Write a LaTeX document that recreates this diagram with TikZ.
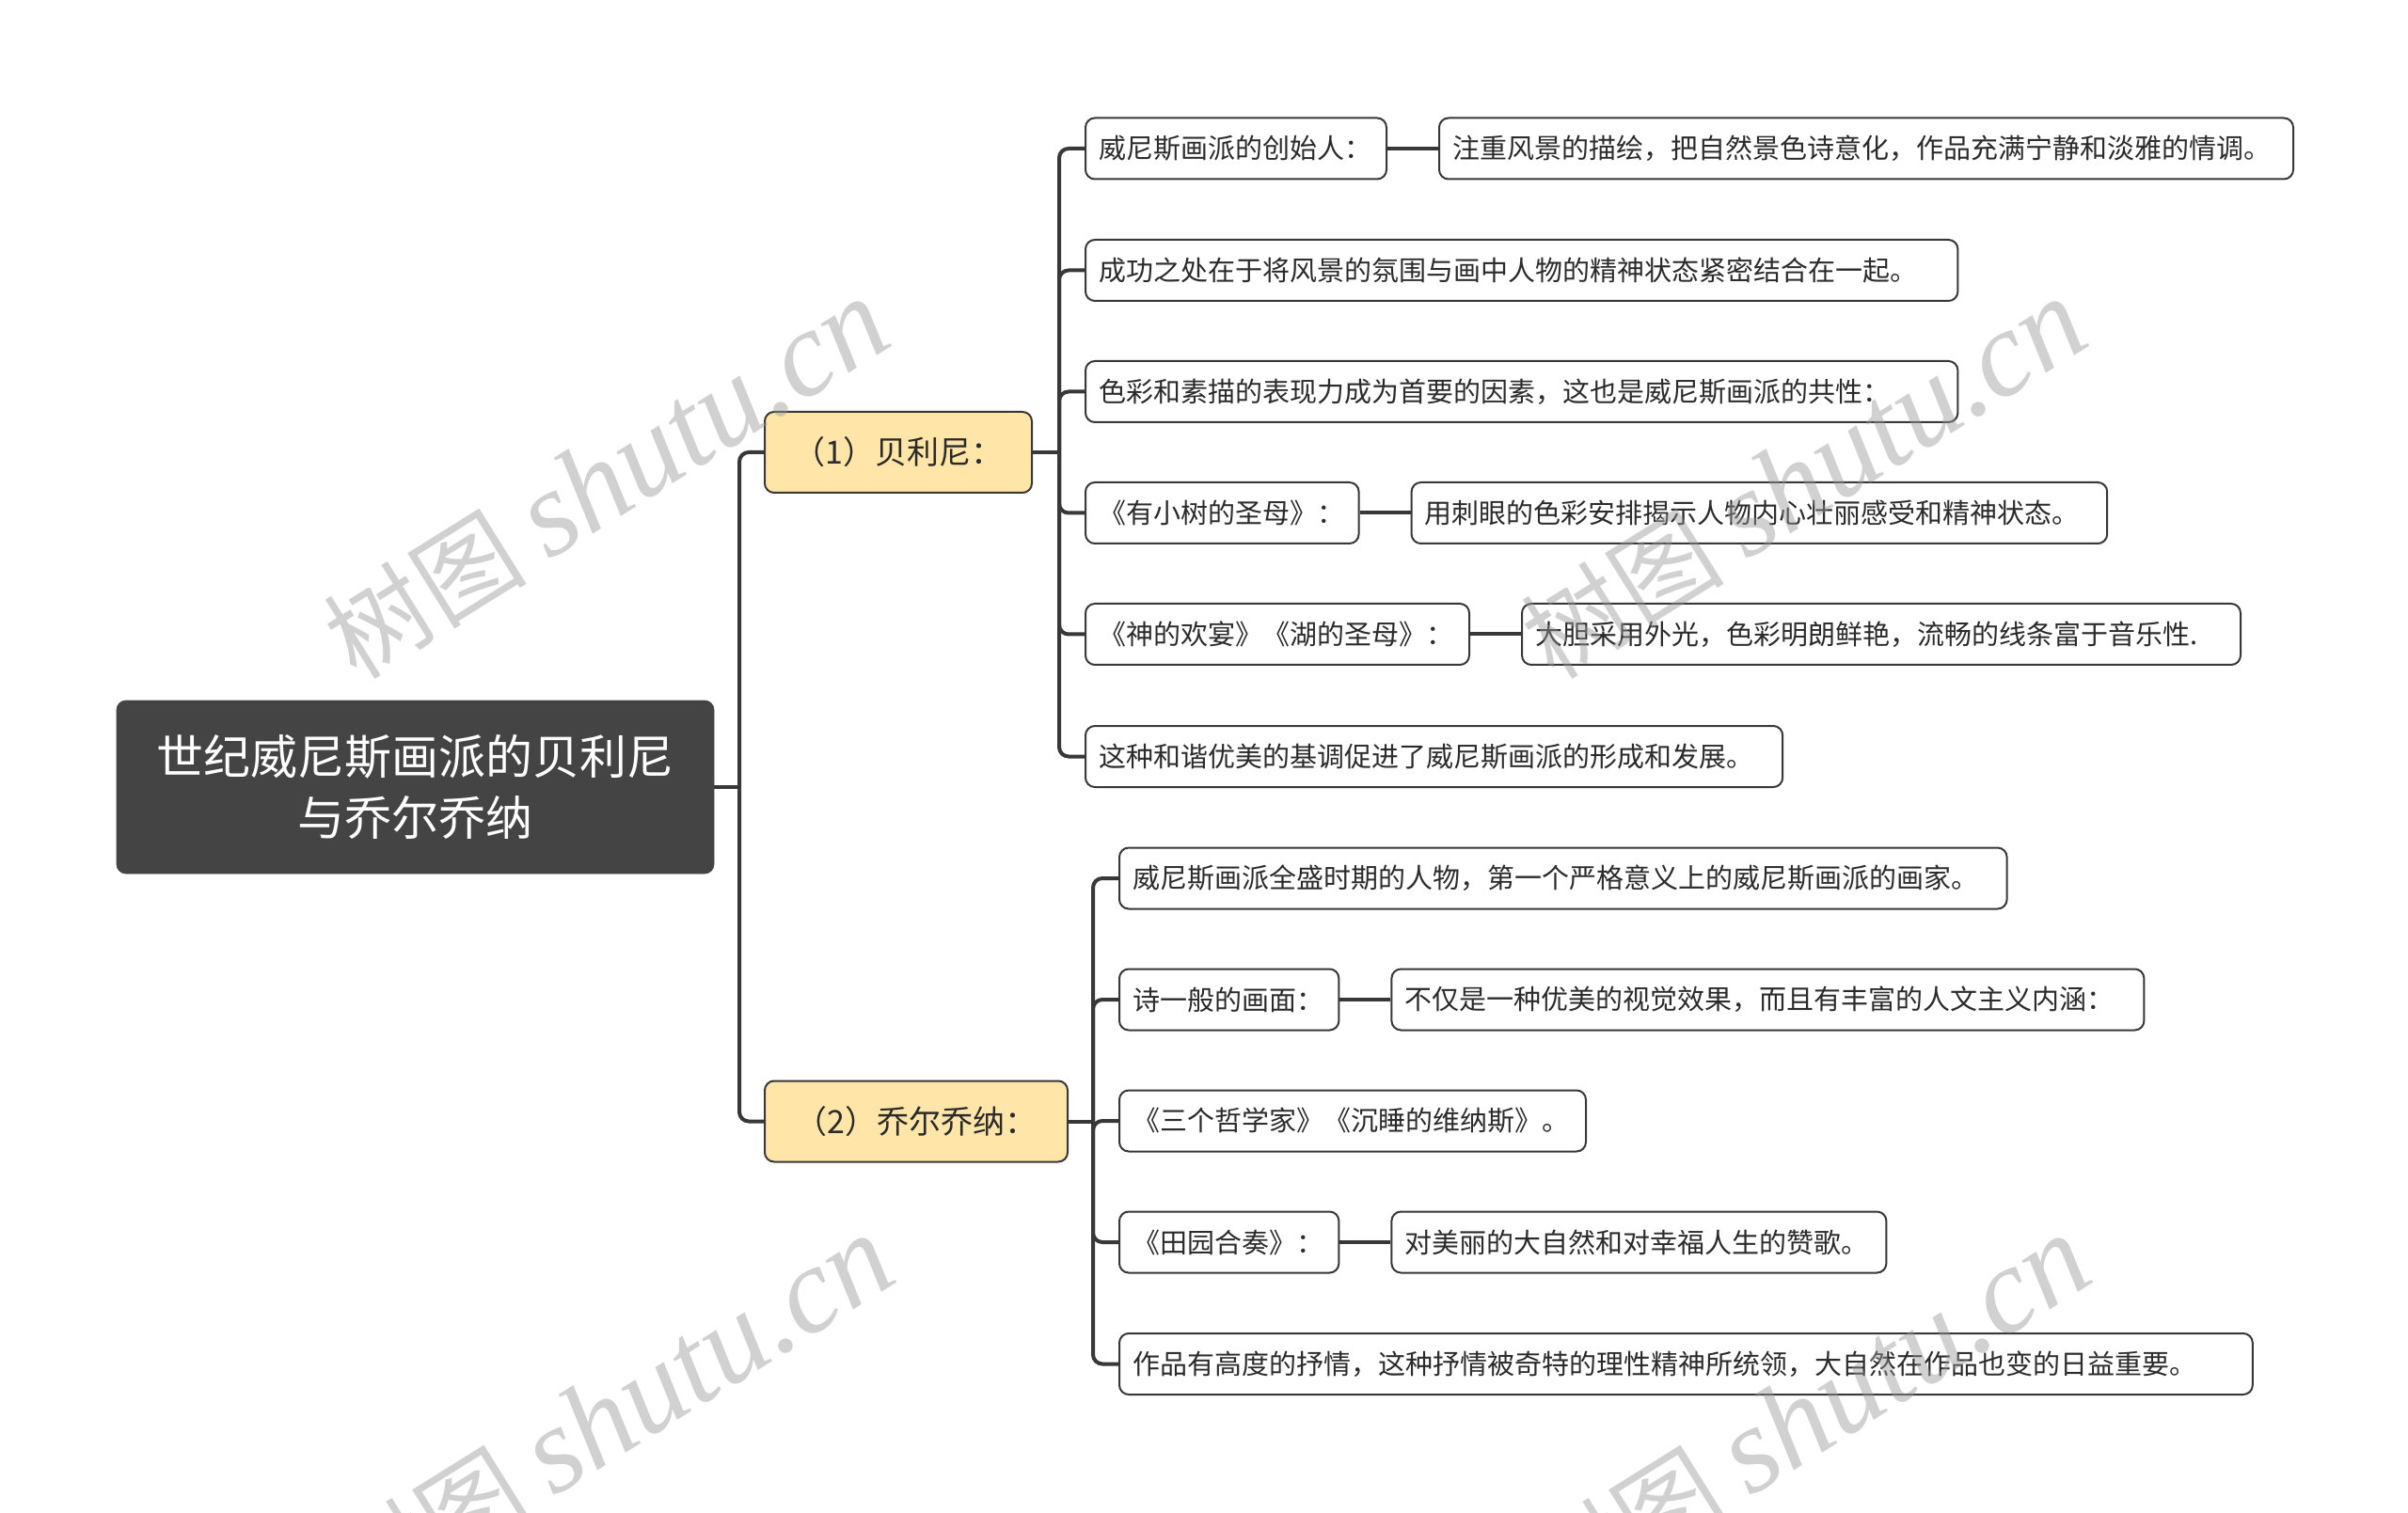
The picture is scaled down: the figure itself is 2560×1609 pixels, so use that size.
\documentclass[tikz,border=0pt]{standalone}
\usepackage{fontspec}
\setmainfont{Noto Sans CJK SC}
\newfontfamily\wmserif{Liberation Serif}
\usetikzlibrary{positioning}
\definecolor{lineC}{HTML}{383838}
\definecolor{rootC}{HTML}{444444}
\definecolor{topicC}{HTML}{FFE6A8}
\definecolor{textC}{HTML}{2B2B2B}
\begin{document}
\begin{tikzpicture}[x=0.5pt,y=-0.5pt,
  rootbox/.style={fill=rootC, draw=rootC, rounded corners=5pt, text=white,
    font=\fontsize{25}{32.5}\selectfont, align=center,
    minimum width=317.5pt, minimum height=92pt, inner sep=0pt},
  topicbox/.style={fill=topicC, draw=lineC, line width=1pt, rounded corners=5pt,
    text=textC, font=\fontsize{17}{20}\selectfont, minimum height=43pt, inner sep=0pt},
  leafbox/.style={fill=white, draw=lineC, line width=1pt, rounded corners=5pt,
    text=textC, font=\fontsize{14.5}{17}\selectfont, minimum height=32.5pt,
    inner xsep=7pt, inner ysep=0pt, anchor=west, align=left, text width=#1},
  conn/.style={draw=lineC, line width=2pt, rounded corners=5pt},
  wmark/.style={rotate=32, text=black!40, opacity=0.45, font=\fontsize{54}{60}\selectfont},
]
\useasboundingbox (0,0) rectangle (2560,1609);
\fill[white] (0,0) rectangle (2560,1609);

% root
\node[rootbox] (root) at (441.5,837) {世纪威尼斯画派的贝利尼\\与乔尔乔纳};

% topics
\node[topicbox, minimum width=142pt] (t1) at (955,481) {（1）贝利尼：};
\node[topicbox, minimum width=161pt] (t2) at (974,1192.5) {（2）乔尔乔纳：};

% leaves of topic 1
\node[leafbox=146pt] (a1) at (1153,158) {威尼斯画派的创始人：};
\node[leafbox=440pt, right=27pt of a1] (a1r) {注重风景的描绘，把自然景色诗意化，作品充满宁静和淡雅的情调。};
\node[leafbox=449.7pt] (a2) at (1153,287.5) {成功之处在于将风景的氛围与画中人物的精神状态紧密结合在一起。};
\node[leafbox=449.7pt] (a3) at (1153,416.5) {色彩和素描的表现力成为首要的因素，这也是威尼斯画派的共性：};
\node[leafbox=131.3pt] (a4) at (1153,545.5) {《有小树的圣母》：};
\node[leafbox=355.8pt, right=27pt of a4] (a4r) {用刺眼的色彩安排揭示人物内心壮丽感受和精神状态。};
\node[leafbox=190pt] (a5) at (1153,674.5) {《神的欢宴》《湖的圣母》：};
\node[leafbox=368pt, right=27pt of a5] (a5r) {大胆采用外光，色彩明朗鲜艳，流畅的线条富于音乐性.};
\node[leafbox=356.6pt] (a6) at (1153,804.5) {这种和谐优美的基调促进了威尼斯画派的形成和发展。};

% leaves of topic 2
\node[leafbox=457.8pt] (b1) at (1189,934) {威尼斯画派全盛时期的人物，第一个严格意义上的威尼斯画派的画家。};
\node[leafbox=102.7pt] (b2) at (1189,1063) {诗一般的画面：};
\node[leafbox=386pt, right=27pt of b2] (b2r) {不仅是一种优美的视觉效果，而且有丰富的人文主义内涵：};
\node[leafbox=234pt] (b3) at (1189,1192) {《三个哲学家》《沉睡的维纳斯》。};
\node[leafbox=102.7pt] (b4) at (1189,1321) {《田园合奏》：};
\node[leafbox=249pt, right=27pt of b4] (b4r) {对美丽的大自然和对幸福人生的赞歌。};
\node[leafbox=588.4pt] (b5) at (1189,1450.5) {作品有高度的抒情，这种抒情被奇特的理性精神所统领，大自然在作品也变的日益重要。};

% connectors root -> topics
\coordinate (j0) at (786,837);
\draw[conn] (root.east) -- (j0);
\draw[conn] (j0) |- (t1.west);
\draw[conn] (j0) |- (t2.west);

% topic 1 -> leaves
\coordinate (j1) at (1126,481);
\draw[conn] (t1.east) -- (j1);
\foreach \n in {a1,a2,a3,a4,a5,a6} \draw[conn] (j1) |- (\n.west);

% topic 2 -> leaves
\coordinate (j2) at (1162,1192.5);
\draw[conn] (t2.east) -- (j2);
\foreach \n in {b1,b2,b3,b4,b5} \draw[conn] (j2) |- (\n.west);

% sibling links
\draw[conn] (a1.east) -- (a1r.west);
\draw[conn] (a4.east) -- (a4r.west);
\draw[conn] (a5.east) -- (a5r.west);
\draw[conn] (b2.east) -- (b2r.west);
\draw[conn] (b4.east) -- (b4r.west);

% watermarks
\node[wmark] (w1) at (645,510) {树图 {\wmserif\itshape\fontsize{65}{70}\selectfont shutu.cn}};
\node[wmark] (w2) at (1918,510) {树图 {\wmserif\itshape\fontsize{65}{70}\selectfont shutu.cn}};
\node[wmark] (w3) at (650,1506) {树图 {\wmserif\itshape\fontsize{65}{70}\selectfont shutu.cn}};
\node[wmark] (w4) at (1922,1506) {树图 {\wmserif\itshape\fontsize{65}{70}\selectfont shutu.cn}};
\end{tikzpicture}
\end{document}
